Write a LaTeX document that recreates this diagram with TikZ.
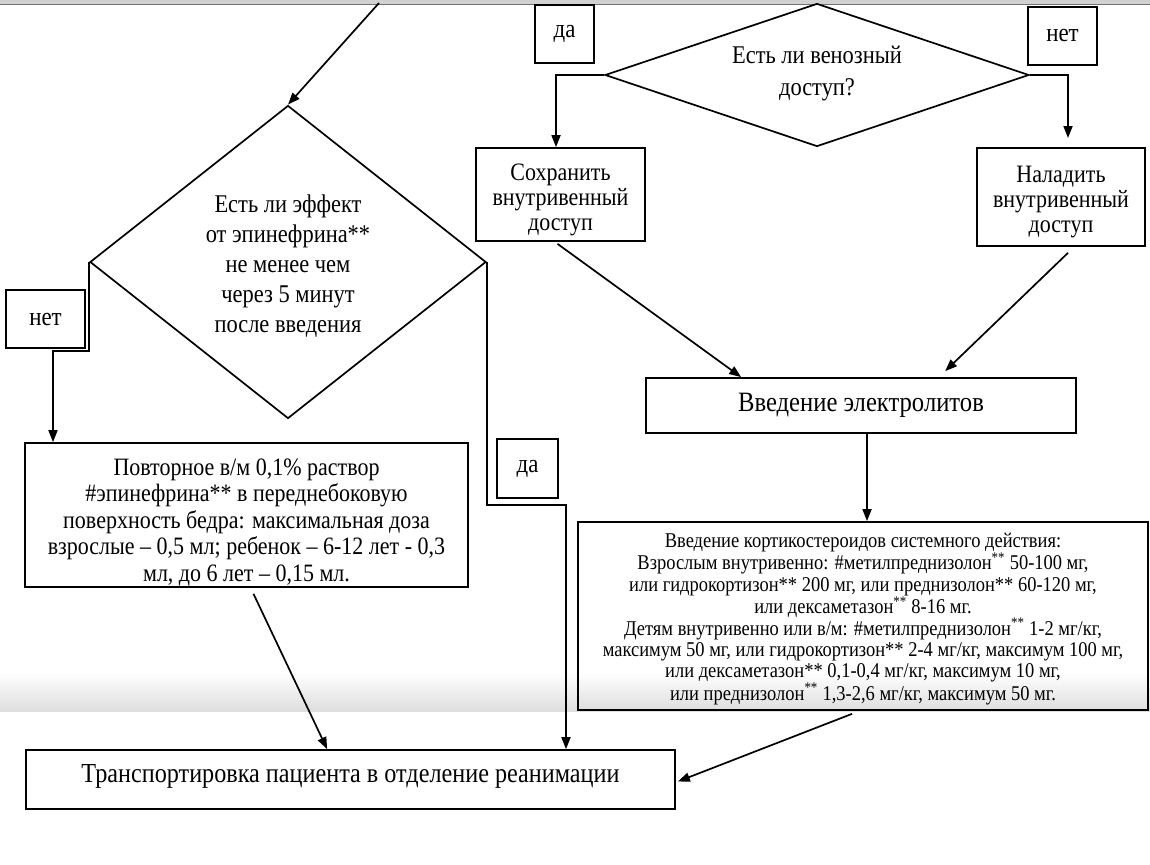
\documentclass[tikz,border=0pt]{standalone}
\usepackage{fontspec}
\setmainfont[FakeStretch=0.88]{Liberation Serif}
\usetikzlibrary{arrows.meta,shapes.geometric,calc}
\begin{document}
\begin{tikzpicture}[x=1pt,y=-1pt,line width=1.7pt,
  box/.style={draw,rectangle,inner sep=0pt,align=center},
  dia/.style={draw,diamond,inner sep=0pt},
  lbl/.style={draw,rectangle,inner sep=0pt,font=\fontsize{26}{28}\selectfont},
  arr/.style={-{Triangle[length=12pt,width=9pt]}}]
\useasboundingbox (0,0) rectangle (1150,864);
% screenshot artefacts
\shade[top color=white,bottom color=black!13] (0,672) rectangle (1150,711);
\fill[black!18] (0,0) rectangle (1150,4);
\draw[black!55,line width=1pt] (0,4.5) -- (1150,4.5);

% diamonds
\node[dia,minimum width=396pt,minimum height=313pt] (d1) at (288,262) {};
\node[align=center,font=\fontsize{25.5}{30}\selectfont] (d1t) at (288,266)
  {Есть ли эффект\\от эпинефрина**\\не менее чем\\через 5 минут\\после введения};
\node[dia,minimum width=424pt,minimum height=143pt] (d2) at (817,75) {};
\node[align=center,font=\fontsize{25.5}{32}\selectfont] (d2t) at (817,74)
  {Есть ли венозный\\доступ?};

% boxes
\node[box,minimum width=169pt,minimum height=93pt,font=\fontsize{25}{25}\selectfont] (sokh) at (560.5,194.5)
  {\rule{0pt}{27pt}Сохранить\\внутривенный\\доступ};
\node[box,minimum width=168pt,minimum height=98pt,font=\fontsize{25}{25}\selectfont] (nal) at (1061,197)
  {\rule{0pt}{27pt}Наладить\\внутривенный\\доступ};
\node[box,minimum width=430pt,minimum height=55pt,font=\fontsize{28}{28}\selectfont] (elec) at (861,405.5)
  {Введение электролитов};
\node[box,minimum width=443pt,minimum height=144pt,font=\fontsize{25}{26.5}\selectfont] (rep) at (246.5,515)
  {\rule{0pt}{31pt}Повторное в/м 0,1\% раствор\\\#эпинефрина** в переднебоковую\\поверхность бедра: максимальная доза\\взрослые – 0,5 мл; ребенок – 6-12 лет - 0,3\\мл, до 6 лет – 0,15 мл.};
\node[box,minimum width=570pt,minimum height=188pt,font=\fontsize{21}{21.3}\selectfont] (cort) at (863,616)
  {\rule{0pt}{20pt}Введение кортикостероидов системного действия:\\
   Взрослым внутривенно: \#метилпреднизолон\textsuperscript{**} 50-100 мг,\\
   или гидрокортизон** 200 мг, или преднизолон** 60-120 мг,\\
   или дексаметазон\textsuperscript{**} 8-16 мг.\\
   Детям внутривенно или в/м: \#метилпреднизолон\textsuperscript{**} 1-2 мг/кг,\\
   максимум 50 мг, или гидрокортизон** 2-4 мг/кг, максимум 100 мг,\\
   или дексаметазон** 0,1-0,4 мг/кг, максимум 10 мг,\\
   или преднизолон\textsuperscript{**} 1,3-2,6 мг/кг, максимум 50 мг.};
\node[box,minimum width=649pt,minimum height=59pt,font=\fontsize{27.5}{28}\selectfont] (tr) at (350.5,779.5)
  {\rule[-12pt]{0pt}{12pt}Транспортировка пациента в отделение реанимации};

% yes / no labels
\node[lbl,minimum width=59pt,minimum height=58pt] (da1) at (564.5,34) {да};
\node[lbl,minimum width=69pt,minimum height=58pt] (net1) at (1062.5,36) {нет};
\node[lbl,minimum width=79pt,minimum height=58pt] (net2) at (45.5,319) {нет};
\node[lbl,minimum width=61pt,minimum height=59pt] (da2) at (527.5,468.5) {да};

% connectors
\coordinate (top) at (379,3);
\draw[arr] (top) -- (d1.north);

\coordinate (n1) at (53,351);
\draw[arr] (d1.west) |- (n1) -- (n1 |- rep.north);

\coordinate (y1) at (566,505);
\draw[arr] (d1.east) |- (y1) -- (y1 |- tr.north);

\draw[arr] ($(rep.south)+(7,6)$) -- ($(tr.north west)+(302,0)$);

\coordinate (s1) at (556,0);
\draw[arr] (d2.west) -| (s1 |- sokh.north);

\coordinate (n2) at (1068,138);
\draw[arr] (d2.east) -| (n2);

\draw[arr] ($(sokh.south)+(-3,2)$) -- ($(elec.north west)+(96,0)$);
\draw[arr] ($(nal.south)+(7,6)$) -- ($(elec.north west)+(300,-6)$);

\draw[arr] ($(elec.south)+(6,0)$) -- ($(cort.north)+(4,0)$);

\draw[arr] ($(cort.south)+(-11,3)$) -- ($(tr.east)+(2,2)$);
\end{tikzpicture}
\end{document}
